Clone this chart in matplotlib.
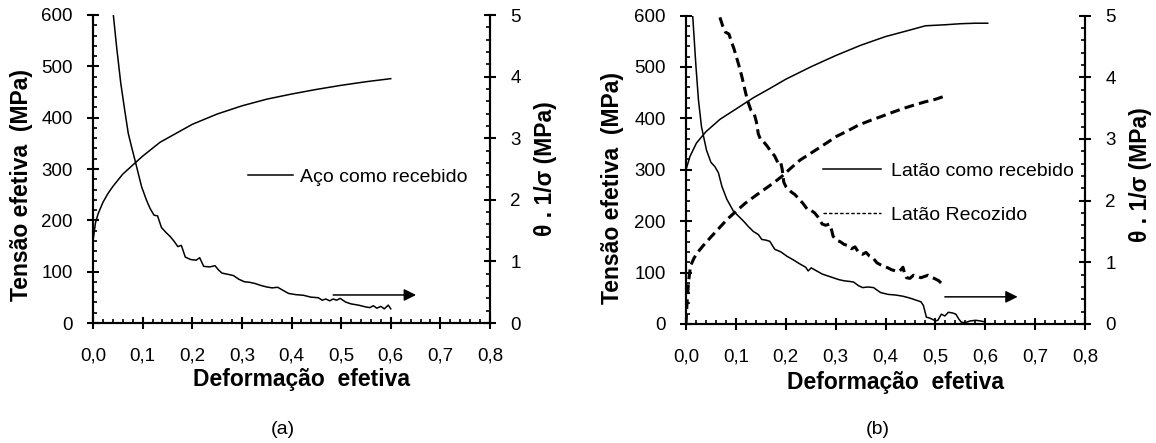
import matplotlib
matplotlib.use('Agg')
import matplotlib.pyplot as plt
from matplotlib.lines import Line2D
from matplotlib.ticker import MultipleLocator, FuncFormatter

plt.rcParams['font.family'] = ['Liberation Sans', 'DejaVu Sans']

# (a) aço como recebido: tensão (eixo esq.) e theta.1/sigma (eixo dir.)
aco_eps = [0.0, 0.005, 0.01, 0.02, 0.03, 0.04, 0.06, 0.085, 0.1, 0.135, 0.2, 0.25, 0.3, 0.35, 0.4, 0.45, 0.5, 0.55, 0.6]
aco_tensao = [160, 195, 212, 235, 252, 266, 290, 312, 325, 352, 387, 407, 423, 436, 446, 455, 463, 470, 476]

aco_theta_eps = [0.041, 0.048, 0.056, 0.064, 0.071, 0.078, 0.085, 0.093, 0.098, 0.108,
                 0.115, 0.123, 0.13, 0.138, 0.147, 0.156, 0.164, 0.171, 0.178, 0.186,
                 0.197, 0.208, 0.215, 0.223, 0.235, 0.246, 0.253, 0.26, 0.272, 0.283,
                 0.294, 0.305, 0.316, 0.327, 0.338, 0.35, 0.361, 0.372, 0.383, 0.394,
                 0.409, 0.424, 0.439, 0.454, 0.462, 0.469, 0.477, 0.484, 0.491, 0.498,
                 0.509, 0.52, 0.535, 0.55, 0.558, 0.565, 0.572, 0.58, 0.587, 0.595, 0.6]
aco_theta = [5.0, 4.45, 3.89, 3.45, 3.08, 2.85, 2.63, 2.37, 2.21, 1.99,
             1.86, 1.75, 1.74, 1.55, 1.47, 1.40, 1.32, 1.24, 1.26, 1.07,
             1.03, 1.02, 1.06, 0.92, 0.91, 0.93, 0.86, 0.81, 0.79, 0.77,
             0.71, 0.67, 0.66, 0.64, 0.61, 0.585, 0.57, 0.58, 0.53, 0.48,
             0.46, 0.45, 0.42, 0.41, 0.37, 0.39, 0.36, 0.39, 0.37, 0.40,
             0.34, 0.31, 0.29, 0.26, 0.25, 0.28, 0.24, 0.27, 0.23, 0.29, 0.23]

# (b) latão como recebido
lat_eps = [0.0, 0.008, 0.021, 0.04, 0.068, 0.1, 0.135, 0.168, 0.2, 0.25,
           0.3, 0.35, 0.4, 0.45, 0.48, 0.5, 0.52, 0.55, 0.58, 0.605]
lat_tensao = [300, 326, 352, 374, 398, 418, 440, 458, 476, 500,
              522, 542, 559, 572, 580, 581, 582, 584, 585, 585]

lat_theta_eps = [0.0134, 0.02, 0.025, 0.031, 0.041, 0.05, 0.058, 0.065, 0.072, 0.082,
                 0.095, 0.105, 0.115, 0.125, 0.135, 0.145, 0.152, 0.16, 0.168, 0.178,
                 0.19, 0.202, 0.215, 0.229, 0.24, 0.245, 0.251, 0.262, 0.273, 0.284,
                 0.295, 0.306, 0.317, 0.328, 0.336, 0.346, 0.354, 0.365, 0.376, 0.383,
                 0.39, 0.405, 0.42, 0.435, 0.449, 0.46, 0.471, 0.476, 0.482, 0.487,
                 0.493, 0.5, 0.505, 0.512, 0.519, 0.526, 0.534, 0.541, 0.547, 0.552,
                 0.559, 0.57, 0.581, 0.59, 0.596]
lat_theta = [5.0, 4.17, 3.63, 3.20, 2.82, 2.62, 2.55, 2.45, 2.23, 2.02,
             1.83, 1.75, 1.67, 1.58, 1.50, 1.45, 1.37, 1.36, 1.34, 1.21,
             1.17, 1.10, 1.04, 0.97, 0.92, 0.86, 0.91, 0.86, 0.81, 0.78,
             0.75, 0.72, 0.70, 0.69, 0.68, 0.62, 0.59, 0.60, 0.59, 0.55,
             0.51, 0.48, 0.47, 0.45, 0.42, 0.39, 0.36, 0.30, 0.11, 0.10,
             0.08, 0.05, 0.06, 0.16, 0.13, 0.19, 0.18, 0.16, 0.08, 0.03,
             0.02, 0.05, 0.06, 0.05, 0.04]

# (b) latão recozido
rec_eps = [0.0, 0.002, 0.005, 0.009, 0.016, 0.023, 0.035, 0.046, 0.065, 0.082,
           0.1, 0.119, 0.14, 0.156, 0.175, 0.192, 0.21, 0.229, 0.25, 0.266,
           0.285, 0.302, 0.325, 0.346, 0.37, 0.39, 0.412, 0.435, 0.458, 0.479,
           0.5, 0.515]
rec_tensao = [0, 40, 81, 113, 128, 139, 153, 165, 185, 203,
              219, 235, 250, 261, 274, 287, 303, 319, 332, 342,
              354, 365, 376, 387, 396, 403, 411, 419, 426, 432,
              437, 442]

rec_theta_eps = [0.068, 0.074, 0.079, 0.086, 0.091, 0.097, 0.105, 0.112, 0.118, 0.123,
                 0.13, 0.137, 0.141, 0.145, 0.15, 0.156, 0.163, 0.17, 0.178, 0.185,
                 0.19, 0.193, 0.196, 0.2, 0.211, 0.218, 0.225, 0.235, 0.244, 0.251,
                 0.258, 0.266, 0.273, 0.28, 0.288, 0.292, 0.295, 0.302, 0.31, 0.317,
                 0.325, 0.332, 0.339, 0.346, 0.354, 0.361, 0.368, 0.375, 0.383, 0.39,
                 0.398, 0.405, 0.412, 0.42, 0.427, 0.431, 0.435, 0.438, 0.442, 0.449,
                 0.456, 0.463, 0.471, 0.478, 0.485, 0.492, 0.5, 0.507, 0.512, 0.515]
rec_theta = [4.97, 4.82, 4.73, 4.70, 4.58, 4.44, 4.22, 4.01, 3.80, 3.63,
             3.47, 3.40, 3.28, 3.08, 2.98, 2.95, 2.88, 2.80, 2.72, 2.60,
             2.62, 2.50, 2.30, 2.23, 2.14, 2.10, 2.04, 1.95, 1.85, 1.84,
             1.80, 1.72, 1.62, 1.60, 1.62, 1.52, 1.42, 1.36, 1.33, 1.29,
             1.27, 1.22, 1.25, 1.16, 1.13, 1.16, 1.10, 1.07, 0.99, 0.96,
             0.93, 0.91, 0.88, 0.86, 0.85, 0.88, 0.92, 0.83, 0.75, 0.74,
             0.79, 0.77, 0.75, 0.77, 0.79, 0.76, 0.73, 0.70, 0.66, 0.65]

# setas indicando o eixo da direita: (inicio, fim, altura em theta)
seta_a = (0.484, 0.651, 0.455)
seta_b = (0.519, 0.665, 0.44)


def virgula(v, pos):
    return f'{v:.1f}'.replace('.', ',')


def eixos(ax, ax2):
    ax.set_xlim(0, 0.8)
    ax.set_ylim(0, 600)
    ax2.set_ylim(0, 5)
    ax.xaxis.set_major_locator(MultipleLocator(0.1))
    ax.xaxis.set_minor_locator(MultipleLocator(0.02))
    ax.xaxis.set_major_formatter(FuncFormatter(virgula))
    ax.yaxis.set_major_locator(MultipleLocator(100))
    ax.yaxis.set_minor_locator(MultipleLocator(20))
    ax2.yaxis.set_major_locator(MultipleLocator(1))
    ax2.yaxis.set_minor_locator(MultipleLocator(0.2))
    for a in (ax, ax2):
        a.spines['top'].set_visible(False)
        for s in a.spines.values():
            s.set_linewidth(1.5)
        a.tick_params(which='major', direction='inout', length=8, width=1.5, labelsize=13.5)
        a.tick_params(which='minor', direction='in', length=3, width=1.2)
        a.tick_params(axis='y', which='major', pad=10.5)
    ax.tick_params(axis='x', which='major', pad=13.5)
    ax.tick_params(top=False, which='both')


fig = plt.figure(figsize=(11.56, 4.43), dpi=100)

# ---------- (a)
ax = fig.add_axes([93 / 1156, 1 - 323 / 443, 397 / 1156, 308 / 443])
ax2 = ax.twinx()
eixos(ax, ax2)
ax.plot(aco_eps, aco_tensao, color='k', lw=1.1)
ax2.plot(aco_theta_eps, aco_theta, color='k', lw=1.1)
ax2.annotate('', xy=(seta_a[1], seta_a[2]), xytext=(seta_a[0], seta_a[2]),
             arrowprops=dict(arrowstyle='-|>', color='k', lw=1.1, mutation_scale=18, shrinkA=0, shrinkB=0))
ax.legend([Line2D([], [], color='k', lw=1.1)], ['Aço como recebido'],
          loc='center left', bbox_to_anchor=(248 / 1156, 1 - 176.7 / 443), bbox_transform=fig.transFigure,
          frameon=False, fontsize=14, handlelength=2.3, handletextpad=0.35, borderpad=0, borderaxespad=0)
ax.set_xlabel('Deformação  efetiva', fontsize=16.5, fontweight='bold', va='center')
ax.xaxis.set_label_coords(0.525, -0.185)
ax.set_ylabel('Tensão efetiva  (MPa)', fontsize=16.5, fontweight='bold', va='center')
ax.yaxis.set_label_coords(-0.179, 0.448)
ax2.set_ylabel('θ . 1/σ (MPa)', fontsize=16.5, fontweight='bold', va='center', rotation=90)
ax2.yaxis.set_label_coords(1.141, 0.5)

# ---------- (b)
bx = fig.add_axes([686 / 1156, 1 - 324 / 443, 399 / 1156, 308.5 / 443])
bx2 = bx.twinx()
eixos(bx, bx2)
bx.plot(lat_eps, lat_tensao, color='k', lw=1.1)
bx2.plot(lat_theta_eps, lat_theta, color='k', lw=1.1)
bx.plot(rec_eps, rec_tensao, color='k', lw=2.2, linestyle=(0, (3.2, 1.7)))
bx2.plot(rec_theta_eps, rec_theta, color='k', lw=2.2, linestyle=(0, (3.2, 1.7)))
bx2.annotate('', xy=(seta_b[1], seta_b[2]), xytext=(seta_b[0], seta_b[2]),
             arrowprops=dict(arrowstyle='-|>', color='k', lw=1.1, mutation_scale=18, shrinkA=0, shrinkB=0))
bx.legend([Line2D([], [], color='k', lw=1.1), Line2D([], [], color='k', lw=1.0, linestyle=(0, (2.5, 1.5)))],
          ['Latão como recebido', 'Latão Recozido'],
          loc='center left', bbox_to_anchor=(823 / 1156, 1 - 193.3 / 443), bbox_transform=fig.transFigure,
          frameon=False, fontsize=14, handlelength=3.0, handletextpad=0.5, labelspacing=1.35,
          borderpad=0, borderaxespad=0)
bx.set_xlabel('Deformação  efetiva', fontsize=16.5, fontweight='bold', va='center')
bx.xaxis.set_label_coords(0.526, -0.191)
bx.set_ylabel('Tensão efetiva  (MPa)', fontsize=16.5, fontweight='bold', va='center')
bx.yaxis.set_label_coords(-0.183, 0.441)
bx2.set_ylabel('θ . 1/σ (MPa)', fontsize=16.5, fontweight='bold', va='center', rotation=90)
bx2.yaxis.set_label_coords(1.140, 0.483)

fig.text(283 / 1156, 1 - 430 / 443, '(a)', fontsize=14, ha='center', va='center')
fig.text(878 / 1156, 1 - 430 / 443, '(b)', fontsize=14, ha='center', va='center')

fig.savefig('out.png', dpi=100)
